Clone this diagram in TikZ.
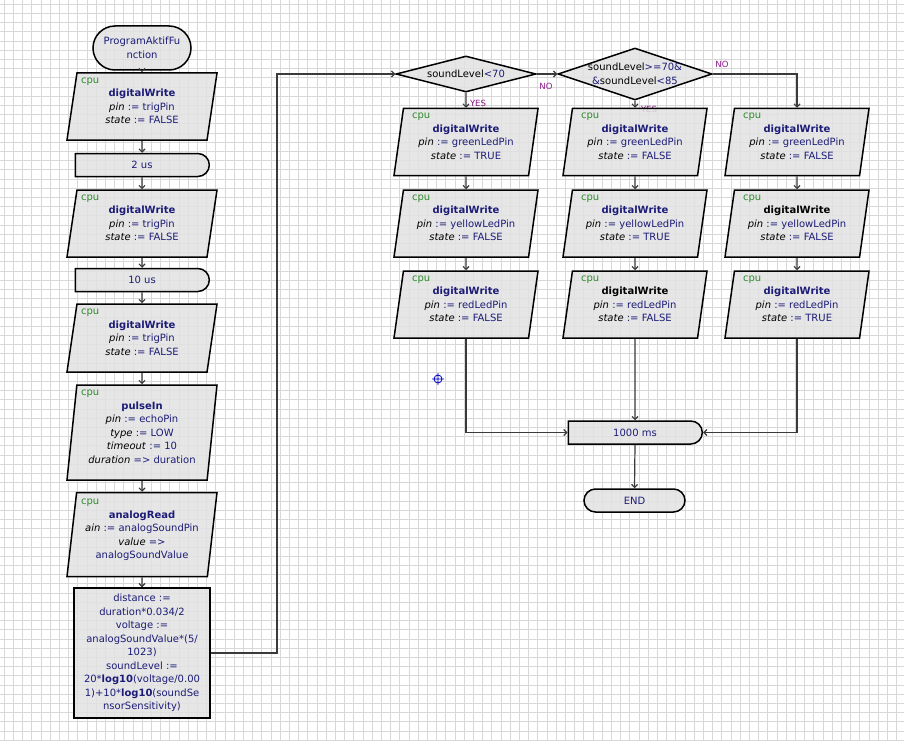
\documentclass[tikz,border=0pt]{standalone}
\usepackage{fontspec}
\setmainfont{DejaVu Sans}
\usetikzlibrary{shapes.geometric,shapes.misc,arrows.meta}

\definecolor{fcnavy}{HTML}{1C1C78}
\definecolor{fcgreen}{HTML}{2E8B2E}
\definecolor{fcfill}{HTML}{E2E2E2}
\definecolor{fcgrid}{HTML}{D8D8D8}
\definecolor{fcline}{HTML}{3A3A3A}
\definecolor{fcpurple}{HTML}{8B1A8B}

\newcommand\cpuline[1][61]{\makebox[0pt][l]{\hspace*{-#1pt}\color{fcgreen}cpu}\\}
\newcommand\padline{\\[-2pt]\mbox{}}
\newcommand\pline[2]{{\color{black}\textit{#1}} := #2}

\begin{document}
\begin{tikzpicture}[x=1pt, y=-1pt, font=\fontsize{10}{13.5}\selectfont,
  box/.style={draw=black, line width=1.5pt, fill=fcfill, fill opacity=0.85,
    text opacity=1, text=fcnavy, align=center, inner sep=1pt},
  para/.style={box, trapezium, trapezium left angle=#1,
    trapezium right angle=180-#1, trapezium stretches body},
  term/.style={box, rounded rectangle, minimum height=23},
  delay/.style={box, rounded rectangle, rounded rectangle left arc=none,
    minimum width=136, minimum height=23},
  dec/.style={box, diamond, inner sep=0pt},
  flow/.style={draw=fcline, line width=1.2pt, -{Straight Barb[length=3pt,width=6pt]}},
  lbl/.style={text=fcpurple, font=\fontsize{8.5}{9}\selectfont, inner sep=0pt}]

  % Raster
  \useasboundingbox (0,0) rectangle (904,741);
  \fill[white] (0,0) rectangle (904,741);
  \foreach \gx in {4,13.2,...,904}
    \draw[fcgrid, line width=0.5pt] (\gx,0) -- (\gx,741);
  \foreach \gy in {4,13.2,...,741}
    \draw[fcgrid, line width=0.5pt] (0,\gy) -- (904,\gy);

  % linke Spalte
  \node[term, minimum width=100, minimum height=44] (start) at (142,48) {ProgramAktifFu\\nction};
  \node[para=80.5, minimum width=150, minimum height=67] (dw1) at (142,106.5)
    {\cpuline\textbf{digitalWrite}\\\pline{pin}{trigPin}\\\pline{state}{FALSE}\padline};
  \node[delay] (d1) at (142,165) {2 us};
  \node[para=80.5, minimum width=150, minimum height=67] (dw2) at (142,223.5)
    {\cpuline\textbf{digitalWrite}\\\pline{pin}{trigPin}\\\pline{state}{FALSE}\padline};
  \node[delay] (d2) at (142,280) {10 us};
  \node[para=80.5, minimum width=150, minimum height=68] (dw3) at (142,338)
    {\cpuline\textbf{digitalWrite}\\\pline{pin}{trigPin}\\\pline{state}{FALSE}\padline};
  \node[para=83.5, minimum width=150, minimum height=95] (pin) at (142,432.5)
    {\cpuline\textbf{pulseIn}\\\pline{pin}{echoPin}\\\pline{type}{LOW}\\
     \pline{timeout}{10}\\{\color{black}\textit{duration}} => duration\padline};
  \node[para=82.5, minimum width=150, minimum height=84] (ar) at (142,534.5)
    {\cpuline\textbf{analogRead}\\\pline{ain}{analogSoundPin}\\
     {\color{black}\textit{value}} =>\\analogSoundValue\padline};
  \node[box, rectangle, minimum width=136, minimum height=130] (calc) at (142,653)
    {distance :=\\duration*0.034/2\\voltage :=\\analogSoundValue*(5/\\1023)\\soundLevel :=\\
     20*\textbf{log10}(voltage/0.00\\1)+10*\textbf{log10}(soundSe\\nsorSensitivity)};

  % Verzweigungen
  \node[dec, minimum width=140, minimum height=36, aspect=3.9] (dec1) at (466,74)
    {{\color{black}soundLevel}<70};
  \node[dec, minimum width=154, minimum height=52, aspect=3, inner sep=-5pt] (dec2) at (635,74)
    {{\color{black}soundLevel}>=70\&\\\&{\color{black}soundLevel}<85};

  % Beschriftungen
  \node[lbl] (yes1) at (478,103) {YES};
  \node[lbl] (yes2) at (649,109) {YES};
  \node[lbl] (no1) at (546,86) {NO};
  \node[lbl] (no2) at (722,64) {NO};

  % rechte Spalten
  \node[para=81, minimum width=144, minimum height=67] (a1) at (466,142)
    {\cpuline[54]\textbf{digitalWrite}\\\pline{pin}{greenLedPin}\\\pline{state}{TRUE}\padline};
  \node[para=81, minimum width=144, minimum height=67] (a2) at (466,223.5)
    {\cpuline[54]\textbf{digitalWrite}\\\pline{pin}{yellowLedPin}\\\pline{state}{FALSE}\padline};
  \node[para=81, minimum width=144, minimum height=67] (a3) at (466,304.5)
    {\cpuline[54]\textbf{digitalWrite}\\\pline{pin}{redLedPin}\\\pline{state}{FALSE}\padline};
  \node[para=81, minimum width=144, minimum height=67] (b1) at (635,142)
    {\cpuline[54]\textbf{digitalWrite}\\\pline{pin}{greenLedPin}\\\pline{state}{FALSE}\padline};
  \node[para=81, minimum width=144, minimum height=67] (b2) at (635,223.5)
    {\cpuline[54]\textbf{digitalWrite}\\\pline{pin}{yellowLedPin}\\\pline{state}{TRUE}\padline};
  \node[para=81, minimum width=144, minimum height=67] (b3) at (635,304.5)
    {\cpuline[54]{\color{black}\textbf{digitalWrite}}\\\pline{pin}{redLedPin}\\\pline{state}{FALSE}\padline};
  \node[para=81, minimum width=144, minimum height=67] (c1) at (797,142)
    {\cpuline[54]\textbf{digitalWrite}\\\pline{pin}{greenLedPin}\\\pline{state}{FALSE}\padline};
  \node[para=81, minimum width=144, minimum height=67] (c2) at (797,223.5)
    {\cpuline[54]{\color{black}\textbf{digitalWrite}}\\\pline{pin}{yellowLedPin}\\\pline{state}{FALSE}\padline};
  \node[para=81, minimum width=144, minimum height=67] (c3) at (797,304.5)
    {\cpuline[54]\textbf{digitalWrite}\\\pline{pin}{redLedPin}\\\pline{state}{TRUE}\padline};

  \node[delay] (wait) at (635,432.5) {1000 ms};
  \node[term, minimum width=103] (end) at (634.5,500.5) {END};

  % Marker
  \draw[blue!80!black, line width=0.8pt] (438,379) circle[radius=4pt]
    (432,379) -- (444,379) (438,373) -- (438,385);

  % Verbindungen
  \draw[flow] (start.south) -- (dw1.north);
  \draw[flow] (dw1.south) -- (d1.north);
  \draw[flow] (d1.south) -- (dw2.north);
  \draw[flow] (dw2.south) -- (d2.north);
  \draw[flow] (d2.south) -- (dw3.north);
  \draw[flow] (dw3.south) -- (pin.north);
  \draw[flow] (pin.south) -- (ar.north);
  \draw[flow] (ar.south) -- (calc.north);
  \coordinate (jmp) at (277,74);
  \draw[flow] (calc.east) -| (jmp) -- (dec1.west);
  \draw[flow] (dec1.south) -- (a1.north);
  \draw[flow] (dec1.east) -- (dec2.west);
  \draw[flow] (dec2.south) -- (b1.north);
  \draw[flow] (dec2.east) -| (c1.north);
  \draw[flow] (a1.south) -- (a2.north);
  \draw[flow] (a2.south) -- (a3.north);
  \draw[flow] (b1.south) -- (b2.north);
  \draw[flow] (b2.south) -- (b3.north);
  \draw[flow] (c1.south) -- (c2.north);
  \draw[flow] (c2.south) -- (c3.north);
  \draw[flow] (a3.south) |- (wait.west);
  \draw[flow] (b3.south) -- (wait.north);
  \draw[flow] (c3.south) |- (wait.east);
  \draw[flow] (wait.south) -- (end.north);
\end{tikzpicture}
\end{document}
